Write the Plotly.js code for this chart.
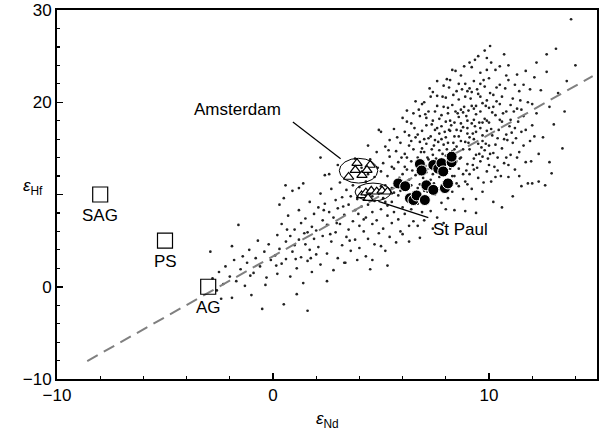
<!DOCTYPE html>
<html>
<head>
<meta charset="utf-8">
<script src="https://cdn.plot.ly/plotly-3.0.1.min.js"></script>
<style>html,body{margin:0;padding:0;background:#fff;}#chart{width:600px;height:432px;}</style>
</head>
<body>
<div id="chart"></div>
<script>
// Global OIB / MORB compilation (small dots)
const cloudPts = [
[-2.8,0.9],[-2.6,-0.4],[-2.5,1.6],[-2.3,0.3],[-2.2,2.2],[-2.0,1.1],[-1.9,-1.2],[-1.8,2.9],[-1.7,0.6],[-1.6,6.7],[-1.5,1.9],[-1.4,3.3],[-1.3,0.1],[-1.2,2.6],[-1.1,4.0],[-1.0,-0.9],[-0.9,1.5],[-0.8,3.1],[-0.7,5.0],[-0.6,2.2],[-0.5,-2.4],[-0.4,3.8],[-0.3,1.0],[-0.2,4.6],[-0.1,2.9],[-2.9,3.8],[-2.4,-1.3],[-1.9,4.4],
[0.1,3.4],[0.2,5.6],[0.2,1.4],[0.3,4.1],[0.4,6.8],[0.4,2.5],[0.5,-1.9],[0.6,4.9],[0.6,3.0],[0.7,7.7],[0.8,5.5],[0.8,1.1],[0.9,3.8],[1.0,6.2],[1.0,4.5],[1.1,2.0],[1.2,8.3],[1.2,5.1],[1.3,3.2],[1.3,6.9],[1.4,0.4],[1.5,4.6],[1.5,7.4],[1.6,2.8],[1.6,5.9],[1.7,9.2],[1.7,4.0],[1.8,6.5],[1.8,1.6],[1.9,5.2],[1.9,7.9],[2.0,3.5],[0.3,8.9],[1.1,-0.8],[0.9,10.4],[1.4,11.2],[0.5,9.6],[1.6,-2.6],[0.58,11.0],[1.2,10.7],
[2.0,6.1],[2.1,8.6],[2.1,4.3],[2.2,10.1],[2.2,2.4],[2.3,7.2],[2.3,5.5],[2.4,12.1],[2.4,9.0],[2.5,3.6],[2.5,6.7],[2.6,8.1],[2.6,12.2],[2.7,4.9],[2.7,10.6],[2.8,7.5],[2.8,1.8],[2.9,9.4],[2.9,5.9],[3.0,8.5],[3.0,3.1],[3.1,11.3],[3.1,6.8],[3.2,4.5],[3.2,9.7],[3.3,7.8],[3.3,2.6],[3.4,10.5],[3.4,5.4],[3.5,8.9],[3.5,6.2],[3.6,3.9],[3.6,9.8],[3.7,7.1],[3.7,11.0],[3.8,5.1],[3.8,8.3],[3.9,2.9],[3.9,9.5],[4.0,6.6],[4.0,10.8],[2.2,14.0],[3.0,13.2],[2.5,0.6],[3.35,2.6],[3.8,13.9],
[4.0,4.2],[4.1,8.7],[4.1,12.9],[4.2,6.0],[4.2,9.9],[4.3,3.3],[4.3,7.5],[4.3,11.4],[4.4,5.2],[4.4,8.9],[4.5,1.9],[4.5,10.6],[4.5,13.8],[4.6,6.8],[4.6,8.1],[4.7,4.6],[4.7,11.9],[4.7,9.3],[4.8,7.2],[4.8,14.6],[4.9,5.8],[4.9,10.1],[4.9,17.0],[5.0,8.4],[5.0,12.5],[5.0,16.8],[5.1,6.3],[5.1,9.6],[5.1,13.4],[5.2,3.9],[5.2,11.0],[5.2,15.2],[5.3,7.7],[5.3,8.8],[5.3,12.0],[5.4,5.4],[5.4,14.1],[5.4,15.9],[5.5,9.2],[5.5,10.7],[5.5,6.9],[5.6,12.8],[5.6,17.1],[5.6,8.1],[5.7,4.8],[5.7,11.5],[5.7,14.7],[5.8,9.9],[5.8,7.3],[5.8,13.5],[5.9,6.0],[5.9,10.4],[5.9,15.6],[6.0,8.6],[6.0,12.2],[6.0,18.3],[4.4,15.3],[4.6,2.9],[5.0,4.4],[5.3,2.3],
[6.0,5.7],[6.1,7.9],[6.1,10.9],[6.1,14.4],[6.1,16.8],[6.2,9.4],[6.2,12.7],[6.2,19.1],[6.3,6.6],[6.3,11.6],[6.3,15.3],[6.4,8.4],[6.4,13.6],[6.4,17.7],[6.5,10.2],[6.5,14.9],[6.5,7.1],[6.6,12.1],[6.6,16.2],[6.6,20.1],[6.7,6.6],[6.7,9.0],[6.7,14.0],[6.8,11.1],[6.8,15.7],[6.8,18.5],[6.9,8.1],[6.9,13.0],[6.9,16.9],[7.0,10.4],[7.0,14.6],[7.0,20.0],[7.0,7.2],[7.1,12.4],[7.1,17.5],[7.1,15.5],[7.2,9.3],[7.2,13.8],[7.2,19.0],[7.3,11.6],[7.3,16.3],[7.3,8.2],[7.4,14.3],[7.4,18.0],[7.4,21.1],[7.5,10.0],[7.5,15.9],[7.5,12.9],[7.6,7.5],[7.6,17.2],[7.6,19.6],[7.7,11.9],[7.7,14.8],[7.7,16.6],[7.8,9.1],[7.8,18.6],[7.8,13.7],[7.9,15.4],[7.9,21.8],[7.9,11.3],[8.0,17.9],[8.0,8.4],[8.0,14.2],[6.2,17.9],[6.5,18.8],[6.9,19.8],[7.3,20.6],[7.6,22.3],[6.3,4.9],[6.8,5.3],[7.4,6.3],[7.9,6.9],[6.4,11.0],[6.6,13.3],[6.9,15.0],[7.2,16.1],[7.5,17.0],[7.8,16.0],[6.7,16.5],[7.1,18.3],[7.4,12.2],[7.7,10.6],[6.1,13.0],[6.4,15.8],[7.0,16.0],[7.5,19.0],[7.9,19.5],
[8.0,11.5],[8.0,20.5],[8.1,9.6],[8.1,15.6],[8.1,18.8],[8.2,12.8],[8.2,16.9],[8.2,22.4],[8.3,10.3],[8.3,14.7],[8.3,19.7],[8.4,17.8],[8.4,12.0],[8.4,8.3],[8.5,15.2],[8.5,21.2],[8.5,13.6],[8.6,18.4],[8.6,10.9],[8.6,16.3],[8.7,22.9],[8.7,14.0],[8.7,19.2],[8.8,12.2],[8.8,17.3],[8.8,9.5],[8.9,15.7],[8.9,20.6],[8.9,11.4],[9.0,18.0],[9.0,13.3],[9.0,16.6],[9.1,24.3],[9.1,21.5],[9.1,14.9],[9.2,10.6],[9.2,17.7],[9.2,19.6],[9.3,12.7],[9.3,16.0],[9.3,22.3],[9.4,9.5],[9.4,14.3],[9.4,18.7],[9.5,20.9],[9.5,15.5],[9.5,11.8],[9.6,17.2],[9.6,23.2],[9.6,13.6],[9.7,19.9],[9.7,16.4],[9.7,10.3],[9.8,14.8],[9.8,21.7],[9.8,18.2],[9.9,12.5],[9.9,16.9],[9.9,24.8],[10.0,15.3],[10.0,19.4],[10.0,22.6],[10.05,26.1],[8.3,23.5],[8.6,20.3],[8.9,22.0],[9.2,23.8],[9.5,25.0],[9.8,25.6],[8.1,13.7],[8.4,14.9],[8.7,15.8],[9.0,17.2],[9.3,18.1],[9.6,19.0],[9.9,20.2],[8.2,18.0],[8.5,17.0],[8.8,18.9],[9.1,16.2],[9.4,16.8],[9.7,17.8],[8.0,16.2],[8.3,12.0],[8.6,12.8],[9.0,11.1],[9.3,13.9],[9.7,14.1],[10.0,13.2],[8.9,8.2],[9.4,8.0],
[10.1,17.1],[10.1,11.4],[10.2,20.8],[10.2,14.5],[10.3,18.6],[10.3,23.5],[10.4,16.1],[10.4,12.6],[10.5,19.8],[10.5,21.9],[10.6,15.0],[10.6,17.9],[10.7,13.4],[10.7,25.2],[10.8,19.0],[10.8,16.5],[10.9,11.9],[10.9,22.4],[11.0,14.3],[11.0,18.1],[11.1,20.4],[11.1,15.6],[11.2,12.7],[11.2,17.2],[11.3,23.0],[11.3,19.3],[11.4,14.6],[11.4,21.2],[11.5,16.8],[11.5,10.9],[11.6,18.5],[11.7,13.5],[11.7,23.4],[11.8,20.0],[11.9,15.8],[12.0,11.2],[12.0,17.5],[12.1,22.7],[10.2,9.2],[10.6,8.6],[11.1,9.8],[10.5,23.9],[10.9,24.0],[11.6,21.9],[12.0,19.8],[10.3,15.4],[10.8,14.0],[11.4,12.0],[11.8,11.2],
[12.2,18.8],[12.3,14.4],[12.4,21.3],[12.5,16.2],[12.67,25.2],[12.67,23.3],[12.8,19.5],[12.9,12.3],[13.0,17.6],[13.2,21.0],[13.4,15.0],[13.5,19.0],[13.8,29.0],[12.3,11.4],[12.6,11.0],[13.6,22.3],[14.0,24.0],[12.8,13.5],[12.2,24.3],[13.1,25.8],
[7.05,13.1],[7.35,14.9],[7.65,15.7],[7.95,16.8],[8.25,17.5],[8.55,18.8],[8.85,19.5],[9.15,20.4],[9.45,21.4],[9.75,22.4],[10.05,21.0],[10.35,20.1],[10.65,18.8],[10.95,17.4],[11.25,16.1],[10.15,16.4],[9.85,15.5],[9.55,14.4],[9.25,13.2],[8.95,12.6],[8.65,13.9],[8.35,15.6],[8.05,14.9],[7.75,13.0],[7.45,11.2],[7.15,10.3],[7.85,20.6],[8.15,21.6],[8.45,23.4],[8.75,21.4],[9.05,19.1],[9.35,17.4],[9.65,15.1],[9.95,13.9],[10.25,13.0],[10.55,12.0],[10.85,15.9],[11.15,19.0],[11.45,20.2],[10.75,21.5],[10.45,17.0],[10.15,18.9],[9.9,18.0],[9.6,20.6],[9.3,19.3],[9.0,21.2],[8.7,17.7],[8.4,16.3],[8.1,19.4],[7.8,17.4],
[6.2,14.0],[6.3,16.4],[6.45,12.6],[6.55,17.2],[6.7,10.7],[6.75,19.2],[6.85,14.6],[6.95,11.8],[7.05,18.7],[7.15,14.0],[7.25,21.5],[7.35,17.6],[7.45,15.3],[7.55,13.9],[7.6,20.7],[7.7,18.2],[7.85,14.4],[7.95,12.3],[8.05,22.5],[8.15,17.0],[8.25,14.1],[8.35,20.8],[8.45,19.0],[8.5,11.2],[8.6,22.0],[8.7,16.9],[8.8,14.9],[8.85,23.9],[8.95,18.5],[9.05,15.6],[9.1,12.2],[9.2,21.1],[9.25,16.6],[9.35,24.6],[9.4,19.6],[9.45,12.9],[9.55,17.8],[9.6,22.0],[9.7,15.8],[9.75,11.3],[9.85,19.6],[9.9,23.5],[10.0,17.8],[10.05,14.4],[10.1,24.3],[10.2,19.5],[10.3,11.9],[10.35,21.6],[10.4,14.0],[10.5,18.1],[10.6,20.6],[10.7,16.0],[10.8,22.9],[10.9,13.2],[11.0,19.7],[11.05,16.7],[11.2,21.9],[11.3,14.0],[11.35,17.9],[11.5,19.2],[11.6,15.3],[11.7,17.0],[11.9,21.4],[11.95,13.6],[12.1,16.3],[5.5,13.0],[5.6,10.2],[5.75,16.2],[5.85,11.8],[5.95,14.0],[5.2,9.2],[5.35,14.8],[5.0,10.9],[4.85,12.9],[4.6,9.8],[4.4,12.2],[4.2,7.3],[3.95,7.9],[3.55,5.0],[3.25,8.7],[2.95,6.9],[2.65,5.7],[2.35,8.3],[1.75,3.1],[1.45,5.8],[1.05,3.0],[0.65,6.2],[0.15,2.3],[-0.35,0.2],[-1.05,1.2]
];

// Kerguelen-type samples (filled circles)
const circleX = [5.8, 6.12, 6.34, 6.5, 6.65, 7.03, 7.1, 7.42, 7.96, 8.1, 6.8, 6.88, 7.42, 7.65, 7.8, 7.88, 8.27, 8.27];
const circleY = [11.2, 10.9, 9.6, 9.4, 9.9, 9.4, 11.0, 10.5, 10.7, 11.2, 13.3, 12.6, 13.2, 12.8, 13.4, 12.5, 13.5, 14.1];

// Amsterdam triangles
const amsX = [3.89, 4.5, 3.81, 4.12, 3.5, 4.35];
const amsY = [13.4, 13.2, 12.65, 12.1, 11.9, 12.65];

// St Paul triangles
const spX = [4.1, 4.3, 4.55, 4.8, 5.05, 5.3, 4.4];
const spY = [9.9, 10.2, 10.4, 10.3, 10.4, 10.3, 9.6];

// Sediment end-members (open squares)
const sqLabels = ["SAG", "PS", "AG"];
const sqX = [-8, -5, -3];
const sqY = [10, 5, 0];

// Mantle array (dashed line) end points
const arrayX = [-8.6, 14.8];
const arrayY = [-8.05, 22.84];

// Tick labels
const xTickVals = [-10, 0, 10];
const xTickText = ["\u221210", "0", "10"];
const yTickVals = [-10, 0, 10, 20, 30];
const yTickText = ["\u221210", "0", "", "20", "30"];

const FONT = "Liberation Sans, Arial, Helvetica, sans-serif";

const traces = [
  {x: cloudPts.map(p => p[0]), y: cloudPts.map(p => p[1]), type: 'scatter', mode: 'markers',
   marker: {size: 2.7, color: '#222'}, hoverinfo: 'skip'},
  {x: arrayX, y: arrayY, type: 'scatter', mode: 'lines',
   line: {color: '#808080', width: 2, dash: '12px,7px'}},
  {x: circleX, y: circleY, type: 'scatter', mode: 'markers',
   marker: {size: 11, color: '#000', line: {color: '#fff', width: 1}}},
  {x: amsX, y: amsY, type: 'scatter', mode: 'markers',
   marker: {symbol: 'triangle-up', size: 9, color: '#fff', line: {color: '#000', width: 1.2}}},
  {x: spX, y: spY, type: 'scatter', mode: 'markers',
   marker: {symbol: 'triangle-up', size: 9, color: '#fff', line: {color: '#000', width: 1.2}}},
  {x: sqX, y: sqY, type: 'scatter', mode: 'markers',
   marker: {symbol: 'square-open', size: 15, color: '#000', line: {width: 1.2}}}
];

const annotations = sqLabels.map((t, i) => ({
  x: sqX[i], y: sqY[i], text: t, showarrow: false, xref: 'x', yref: 'y',
  yanchor: 'middle', xanchor: 'center',
  yshift: -21, font: {size: 17, color: '#000', family: FONT}
}));
annotations.push(
  {x: -1.66, y: 19.25, xref: 'x', yref: 'y', text: 'Amsterdam', showarrow: false,
   xanchor: 'center', yanchor: 'middle', font: {size: 17, color: '#000', family: FONT}},
  {x: 7.3, y: 6.24, xref: 'x', yref: 'y', text: 'St Paul', showarrow: false, xanchor: 'left',
   yanchor: 'middle', font: {size: 17, color: '#000', family: FONT}},
  {x: 0.5, y: -0.11, xref: 'paper', yref: 'paper', text: '<i>ε</i><sub>Nd</sub>', showarrow: false,
   xanchor: 'center', yanchor: 'middle', font: {size: 17, color: '#000', family: FONT}},
  {x: -0.044, y: 0.52, xref: 'paper', yref: 'paper', text: '<i>ε</i><sub>Hf</sub>', showarrow: false,
   xanchor: 'center', yanchor: 'middle', font: {size: 17, color: '#000', family: FONT}}
);

const shapes = [
  {type: 'circle', xref: 'x', yref: 'y', x0: 3.07, x1: 4.85, y0: 11.24, y1: 13.92, line: {color: '#000', width: 1}},
  {type: 'circle', xref: 'x', yref: 'y', x0: 3.8, x1: 5.46, y0: 9.3, y1: 11.24, line: {color: '#000', width: 1}},
  {type: 'line', xref: 'x', yref: 'y', x0: 0.92, y0: 17.85, x1: 3.13, y1: 13.87, line: {color: '#000', width: 1.2}},
  {type: 'line', xref: 'x', yref: 'y', x0: 4.88, y0: 9.25, x1: 7.19, y1: 7.5, line: {color: '#000', width: 1.2}}
];

const axisCommon = {
  showline: true, linecolor: '#000', linewidth: 2, mirror: true,
  showgrid: false, zeroline: false, ticks: 'inside', ticklen: 6, tickwidth: 1.5, tickcolor: '#000',
  ticklabeloverflow: 'allow',
  tickfont: {size: 17, color: '#000', family: FONT},
  minor: {ticks: 'inside', ticklen: 3, tickwidth: 1.2, tickcolor: '#000', dtick: 2, tick0: 0, showgrid: false}
};

const layout = {
  width: 600, height: 432,
  margin: {l: 57, r: 3, t: 10, b: 53},
  paper_bgcolor: '#fff', plot_bgcolor: '#fff',
  showlegend: false,
  xaxis: Object.assign({}, axisCommon, {range: [-10, 15.0001], tickmode: 'array', tickvals: xTickVals, ticktext: xTickText}),
  yaxis: Object.assign({}, axisCommon, {range: [-10, 30.001], tickmode: 'array', tickvals: yTickVals, ticktext: yTickText}),
  annotations: annotations,
  shapes: shapes
};

Plotly.newPlot('chart', traces, layout, {displayModeBar: false, staticPlot: true});
</script>
</body>
</html>
